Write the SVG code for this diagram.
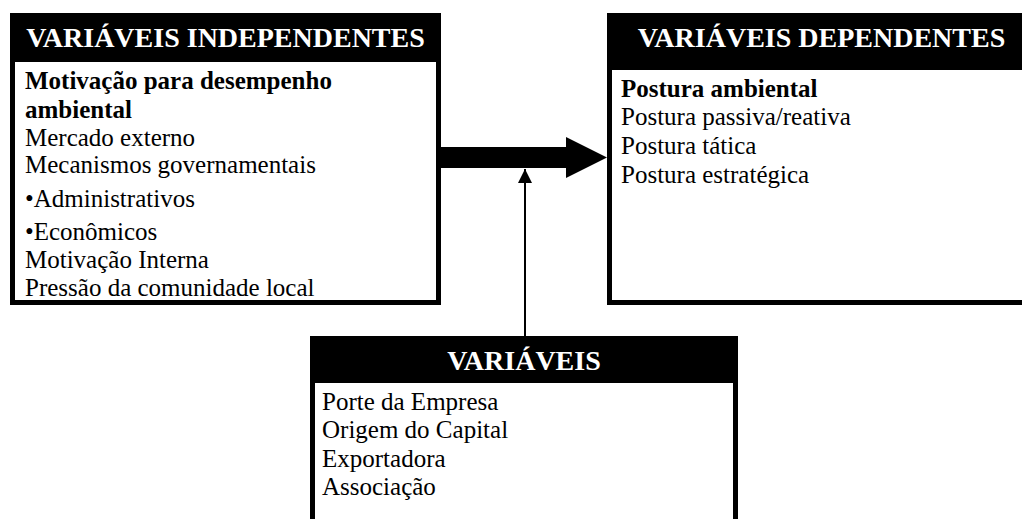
<svg xmlns="http://www.w3.org/2000/svg" width="1022" height="519" viewBox="0 0 1022 519">
<style>
.box{fill:#fff;stroke:#000;stroke-width:5}
.hdr{fill:#000}
.ht{font-family:'Liberation Serif','Times New Roman',serif;font-size:28px;font-weight:bold;fill:#fff;text-anchor:middle}
.t{font-family:'Liberation Serif','Times New Roman',serif;font-size:25px;fill:#000}
.b{font-weight:bold}
</style>
<defs>
<clipPath id="clipL"><rect x="15" y="62" width="421" height="236"/></clipPath>
<marker id="ah" markerUnits="userSpaceOnUse" markerWidth="16" markerHeight="14" refX="14" refY="7" orient="auto">
<path d="M0,0 L14,7 L0,14 Z" fill="#000"/>
</marker>
</defs>
<rect width="1022" height="519" fill="#fff"/>
<g id="independentes">
<rect class="box" x="12.5" y="15.5" width="426" height="287"/>
<rect class="hdr" x="10" y="13" width="431" height="49"/>
<text class="ht" x="225.5" y="47">VARIÁVEIS INDEPENDENTES</text>
<g clip-path="url(#clipL)">
<text class="t b" x="25" y="89">Motivação para desempenho</text>
<text class="t b" x="25" y="118">ambiental</text>
<text class="t" x="25" y="146">Mercado externo</text>
<text class="t" x="25" y="173">Mecanismos governamentais</text>
<text class="t" x="25" y="207">•Administrativos</text>
<text class="t" x="25" y="240">•Econômicos</text>
<text class="t" x="25" y="268">Motivação Interna</text>
<text class="t" x="25" y="296">Pressão da comunidade local</text>
</g>
</g>
<g id="dependentes">
<rect class="box" x="609.5" y="15.5" width="424" height="287"/>
<rect class="hdr" x="607" y="13" width="429" height="57"/>
<text class="ht" x="821.5" y="47">VARIÁVEIS DEPENDENTES</text>
<text class="t b" x="621" y="97">Postura ambiental</text>
<text class="t" x="621" y="125">Postura passiva/reativa</text>
<text class="t" x="621" y="154">Postura tática</text>
<text class="t" x="621" y="183">Postura estratégica</text>
</g>
<g id="variaveis">
<rect class="box" x="312.5" y="338.5" width="423" height="250"/>
<rect class="hdr" x="310" y="336" width="428" height="47"/>
<text class="ht" x="524" y="370">VARIÁVEIS</text>
<text class="t" x="322" y="410">Porte da Empresa</text>
<text class="t" x="322" y="438">Origem do Capital</text>
<text class="t" x="322" y="467">Exportadora</text>
<text class="t" x="322" y="495">Associação</text>
</g>
<g id="connectors">
<polygon points="441,147 566,147 566,137 607,157.5 566,178 566,168 441,168" fill="#000"/>
<line x1="525" y1="336" x2="525" y2="169" stroke="#000" stroke-width="2" marker-end="url(#ah)"/>
</g>
</svg>
